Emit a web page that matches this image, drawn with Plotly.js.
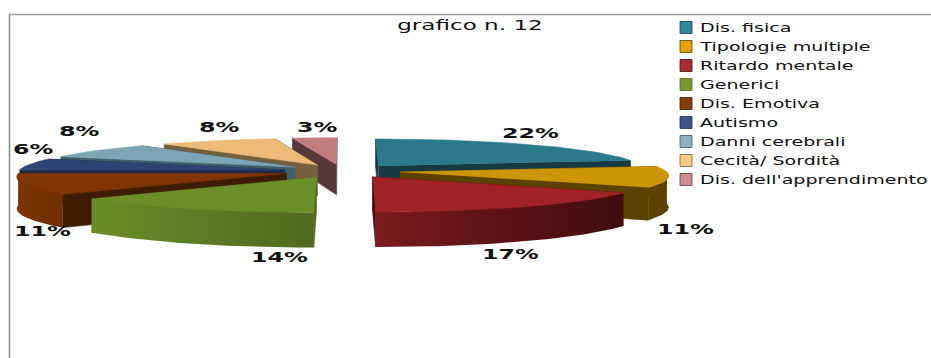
<!DOCTYPE html>
<html>
<head>
<meta charset="utf-8">
<script src="https://cdn.plot.ly/plotly-3.0.1.min.js"></script>
<style>
html, body { margin: 0; padding: 0; background: #fff; }
#chart { width: 931px; height: 358px; }
/* wide lettering for the labels and the legend */
.legendtext { transform: translateX(-6px) scaleX(1.59); transform-box: fill-box; transform-origin: left center; }
.annotation-text { transform: scaleX(1.7); transform-box: fill-box; transform-origin: center center; }
.gtitle { transform: scaleX(1.65); transform-box: fill-box; transform-origin: center center; }
.legendbar { transform: scale(1.17, 0.67); }
</style>
</head>
<body>
<div id="chart"></div>
<script>
// Shares by type of disability, in percent
const categories = ['Dis. fisica', 'Tipologie multiple', 'Ritardo mentale', 'Generici', 'Dis. Emotiva',
                    'Autismo', 'Danni cerebrali', 'Cecità/ Sordità', "Dis. dell'apprendimento"];
const shares = [22, 11, 17, 14, 11, 6, 8, 8, 3];

// Colours of the top face, legend swatch, cut walls and rim (left and right end of the shading)
const topColors   = ['#2A7A8C', '#CC9506', '#A02226', '#6A8E28', '#7F3500', '#2E4375', '#7CA6B5', '#EDBA78', '#C47D7D'];
const swatchColors= ['#31859C', '#E3A20A', '#AA2A2E', '#77992F', '#843C0B', '#3F5486', '#8DB1C0', '#FAC984', '#D08C8C'];
const wallColors  = ['#153A44', '#5C4200', '#4A0E10', '#50681E', '#3D1C00', '#1F2E50', '#3F5E68', '#75603E', '#57373A'];
const rimLeft     = ['#153A44', '#5C4200', '#7A1A1C', '#6A8E28', '#7F3500', '#2E4375', '#3F5E68', '#75603E', '#57373A'];
const rimRight    = ['#153A44', '#5C4200', '#400C0E', '#50681E', '#6E2E00', '#2E4375', '#3F5E68', '#75603E', '#57373A'];

// Pie geometry in page pixels
const pie = { cx: 342, cy: 171, rx: 266, ry: 30.5, depth: 31, explode: 0.22, persp: 0.097 };

// Slices are painted from the back of the pie to the front
const paintOrder = [8, 7, 6, 5, 4, 3, 0, 1, 2];

// Where each percentage sits
const labelX = [530, 685, 510, 279, 42, 33, 79, 219, 317];
const labelY = [133, 229, 254, 257, 231, 149, 131, 127, 127];

function project(X, Z, h) {
  const s = 1 / (1 - pie.persp * Z);
  return [pie.cx + pie.rx * X * s, pie.cy + (pie.ry * Z + h * pie.depth) * s];
}

const total = shares.reduce((a, b) => a + b, 0);
let running = 0;
const slices = shares.map(v => {
  const a0 = running / total * 2 * Math.PI;
  running += v;
  const a1 = running / total * 2 * Math.PI;
  const mid = (a0 + a1) / 2;
  return { a0, a1, ox: pie.explode * Math.sin(mid), oz: -pie.explode * Math.cos(mid) };
});

function poly(name, pts, fill, gradient) {
  const t = {
    type: 'scatter', mode: 'lines', fill: 'toself', name,
    x: pts.map(p => p[0]), y: pts.map(p => p[1]),
    line: { width: 0.6, color: fill }, fillcolor: fill,
    hoverinfo: 'skip', showlegend: false
  };
  if (gradient) {
    t.fillgradient = { type: 'horizontal', colorscale: [[0, gradient[0]], [1, gradient[1]]] };
    t.line = { width: 0 };
  }
  return t;
}

const traces = [];
paintOrder.forEach(i => {
  const sl = slices[i];
  const edge = (a, h) => project(sl.ox + Math.sin(a), sl.oz - Math.cos(a), h);
  const apex = h => project(sl.ox, sl.oz, h);
  // radial cut walls
  [sl.a0, sl.a1].forEach(a => {
    traces.push(poly(categories[i], [apex(0), edge(a, 0), edge(a, 1), apex(1)], wallColors[i]));
  });
  // rim: only the part that faces the viewer
  const from = Math.max(sl.a0, Math.PI / 2), to = Math.min(sl.a1, 3 * Math.PI / 2);
  if (to > from) {
    const n = Math.ceil((to - from) / 0.03);
    const upper = [], lower = [];
    for (let k = 0; k <= n; k++) {
      const a = from + (to - from) * k / n;
      upper.push(edge(a, 0));
      lower.unshift(edge(a, 1));
    }
    traces.push(poly(categories[i], upper.concat(lower), rimLeft[i], [rimLeft[i], rimRight[i]]));
  }
  // top face
  const n = Math.ceil((sl.a1 - sl.a0) / 0.03);
  const face = [apex(0)];
  for (let k = 0; k <= n; k++) face.push(edge(sl.a0 + (sl.a1 - sl.a0) * k / n, 0));
  traces.push(poly(categories[i], face, topColors[i]));
});

// Legend entries, in the order of the data
categories.forEach((c, i) => {
  traces.push({
    type: 'bar', x: [null], y: [null], name: c, hoverinfo: 'skip',
    marker: { color: swatchColors[i], line: { color: wallColors[i], width: 0.8 } }
  });
});

const layout = {
  width: 931, height: 358,
  margin: { l: 0, r: 0, t: 0, b: 0, autoexpand: false },
  paper_bgcolor: '#fff', plot_bgcolor: '#fff',
  showlegend: true,
  title: {
    text: 'grafico n. 12', x: 470 / 931, xanchor: 'center', y: 1 - 25 / 358, yanchor: 'middle',
    font: { family: 'DejaVu Sans', size: 14, color: '#111' }
  },
  xaxis: { range: [0, 931], visible: false, fixedrange: true },
  yaxis: { range: [358, 0], visible: false, fixedrange: true },
  legend: {
    x: 666 / 931, xanchor: 'left', y: 1 - 13 / 358, yanchor: 'top',
    font: { family: 'DejaVu Sans', size: 12, color: '#111' },
    bgcolor: 'rgba(0,0,0,0)', entrywidth: 230, entrywidthmode: 'pixels',
    itemclick: false, itemdoubleclick: false
  },
  shapes: [
    { type: 'line', x0: 9, x1: 931, y0: 14.5, y1: 14.5, line: { color: '#A0A0A0', width: 1.5 } },
    { type: 'line', x0: 9.5, x1: 9.5, y0: 14, y1: 358, line: { color: '#888', width: 1.5 } }
  ],
  annotations: shares.map((v, i) => ({
    x: labelX[i], y: labelY[i], xref: 'x', yref: 'y', showarrow: false,
    text: v + '%', xanchor: 'center', yanchor: 'middle',
    font: { family: 'DejaVu Sans', size: 14, color: '#111', weight: 700 }
  }))
};

Plotly.newPlot('chart', traces, layout, { displayModeBar: false });
</script>
</body>
</html>
